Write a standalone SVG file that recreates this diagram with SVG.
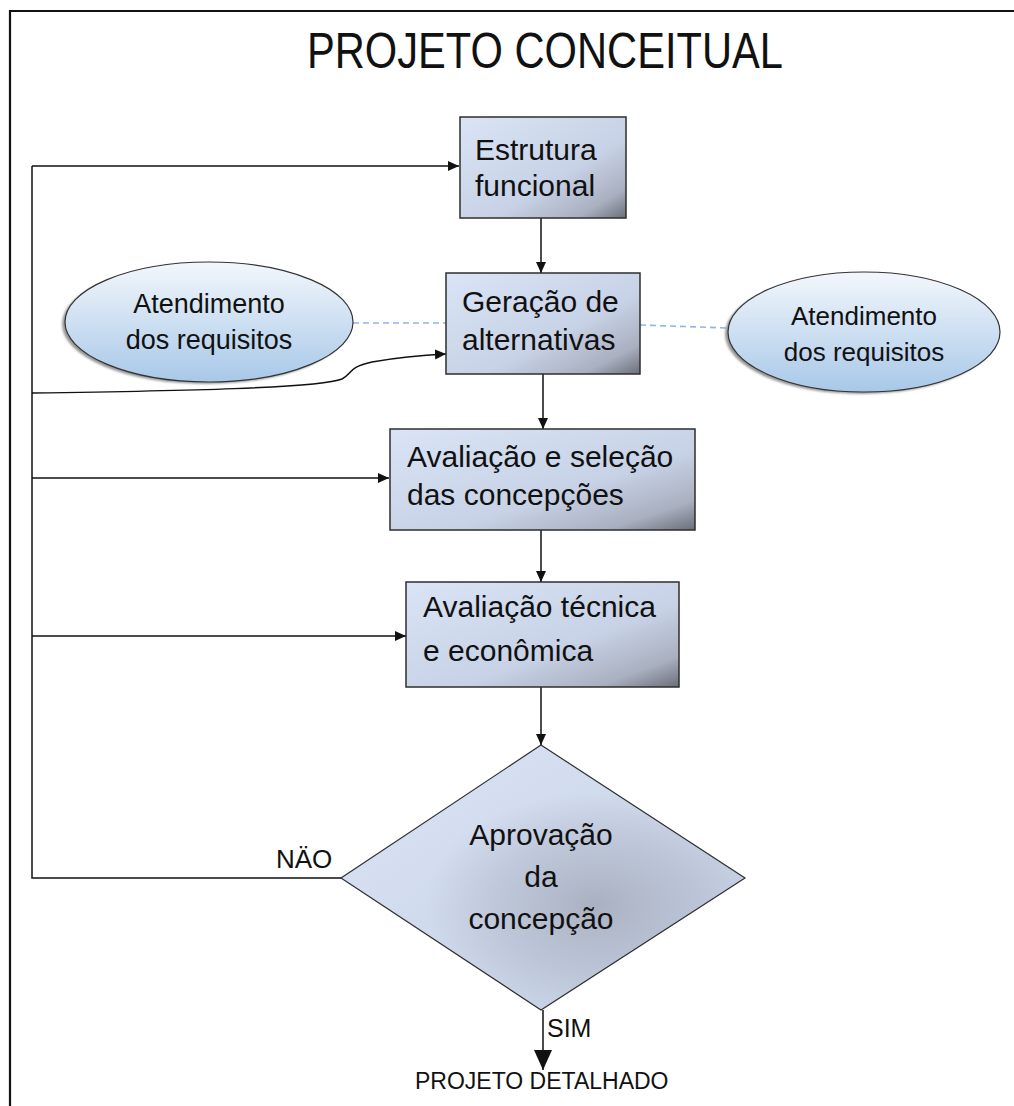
<svg xmlns="http://www.w3.org/2000/svg" width="1014" height="1106" viewBox="0 0 1014 1106">
  <style>
    .t { font-family: "Liberation Sans", Arial, sans-serif; fill: #111; }
    .box { stroke: #2e2e2e; stroke-width: 1.5; fill: url(#boxFill); }
    .ell { stroke: #333; stroke-width: 1.2; fill: url(#ellFill); }
    .shadow { fill: #7d7d7d; opacity: 0.8; }
    .wire { fill: none; stroke: #111; stroke-width: 1.5; }
    .dash { fill: none; stroke: #8db6e2; stroke-width: 1.6; stroke-dasharray: 6 4; }
  </style>
  <defs>
    <linearGradient id="boxFill" x1="0" y1="0" x2="1" y2="1">
      <stop offset="0" stop-color="#dae4f6"/>
      <stop offset="0.6" stop-color="#c8d2e6"/>
      <stop offset="0.85" stop-color="#a9b0c0"/>
      <stop offset="1" stop-color="#6b6f79"/>
    </linearGradient>
    <linearGradient id="ellFill" x1="0" y1="0" x2="0" y2="1">
      <stop offset="0" stop-color="#f3f7fc"/>
      <stop offset="1" stop-color="#a8c8e8"/>
    </linearGradient>
    <linearGradient id="diaFill" x1="0" y1="0" x2="1" y2="1">
      <stop offset="0" stop-color="#dbe5f6"/>
      <stop offset="1" stop-color="#c3cde2"/>
    </linearGradient>
    <radialGradient id="diaShade" cx="0.63" cy="0.6" r="0.42">
      <stop offset="0" stop-color="#9298a6" stop-opacity="0.6"/>
      <stop offset="0.6" stop-color="#9aa1b0" stop-opacity="0.3"/>
      <stop offset="1" stop-color="#9aa1b0" stop-opacity="0"/>
    </radialGradient>
    <filter id="soft" x="-10%" y="-10%" width="120%" height="120%">
      <feGaussianBlur stdDeviation="0.8"/>
    </filter>
    <marker id="arr" viewBox="0 0 10 10" refX="10" refY="5" markerWidth="11" markerHeight="10" markerUnits="userSpaceOnUse" orient="auto" preserveAspectRatio="none">
      <path d="M0,0 L10,5 L0,10 Z" fill="#111"/>
    </marker>
    <marker id="arrBig" viewBox="0 0 10 10" refX="10" refY="5" markerWidth="20" markerHeight="18" markerUnits="userSpaceOnUse" orient="auto" preserveAspectRatio="none">
      <path d="M0,0 L10,5 L0,10 Z" fill="#111"/>
    </marker>
  </defs>

  <rect width="1014" height="1106" fill="#ffffff"/>

  <!-- page frame -->
  <path d="M10,1106 V11 H1014" fill="none" stroke="#111" stroke-width="2.2"/>

  <text class="t" x="545" y="68" font-size="50" text-anchor="middle" textLength="476" lengthAdjust="spacingAndGlyphs">PROJETO CONCEITUAL</text>

  <!-- connectors -->
  <g id="connectors">
    <!-- feedback loop from the decision back to each step -->
    <path class="wire" d="M341,878 H32 V166"/>
    <path class="wire" d="M32,166 H459" marker-end="url(#arr)"/>
    <path class="wire" d="M32,478 H389" marker-end="url(#arr)"/>
    <path class="wire" d="M32,636 H406" marker-end="url(#arr)"/>
    <path class="wire" d="M32,393 C180,391 320,388 342,379 C352,374 348,367 372,362 C400,357 425,355 446,354" marker-end="url(#arr)"/>
    <!-- main flow -->
    <path class="wire" d="M541,218 V273" marker-end="url(#arr)"/>
    <path class="wire" d="M543,374 V429" marker-end="url(#arr)"/>
    <path class="wire" d="M541,530 V582" marker-end="url(#arr)"/>
    <path class="wire" d="M541,687 V745" marker-end="url(#arr)"/>
    <path class="wire" d="M543,1010 V1070" marker-end="url(#arrBig)"/>
    <!-- requirement links -->
    <path class="dash" d="M353,323 H446"/>
    <path class="dash" d="M640,325 L728,328"/>
  </g>

  <g id="req-left">
    <ellipse class="shadow" cx="206" cy="324" rx="144" ry="60" filter="url(#soft)"/>
    <ellipse class="ell" cx="209" cy="322" rx="144" ry="60"/>
    <text class="t" font-size="27" text-anchor="middle"><tspan x="209" y="313">Atendimento</tspan><tspan x="209" y="349">dos requisitos</tspan></text>
  </g>

  <g id="req-right">
    <ellipse class="shadow" cx="861" cy="334" rx="136" ry="60" filter="url(#soft)"/>
    <ellipse class="ell" cx="864" cy="332" rx="136" ry="60"/>
    <text class="t" font-size="26" text-anchor="middle"><tspan x="864" y="325">Atendimento</tspan><tspan x="864" y="361">dos requisitos</tspan></text>
  </g>

  <g id="estrutura">
    <rect class="box" x="460" y="117" width="166" height="101"/>
    <text class="t" font-size="30"><tspan x="475" y="160">Estrutura</tspan><tspan x="475" y="196">funcional</tspan></text>
  </g>

  <g id="geracao">
    <rect class="box" x="446" y="273" width="194" height="101"/>
    <text class="t" font-size="30"><tspan x="462" y="312">Geração de</tspan><tspan x="462" y="350">alternativas</tspan></text>
  </g>

  <g id="selecao">
    <rect class="box" x="390" y="429" width="305" height="101"/>
    <text class="t" font-size="30"><tspan x="407" y="467">Avaliação e seleção</tspan><tspan x="407" y="505">das concepções</tspan></text>
  </g>

  <g id="tecnica">
    <rect class="box" x="406" y="582" width="273" height="105"/>
    <text class="t" font-size="30"><tspan x="423" y="617">Avaliação técnica</tspan><tspan x="423" y="661">e econômica</tspan></text>
  </g>

  <g id="aprovacao">
    <path d="M541,745 L745,878 L541,1010 L341,878 Z" fill="url(#diaFill)"/>
    <path d="M541,745 L745,878 L541,1010 L341,878 Z" fill="url(#diaShade)" stroke="#2e2e2e" stroke-width="1.2"/>
    <text class="t" font-size="30" text-anchor="middle"><tspan x="541" y="845">Aprovação</tspan><tspan x="541" y="887">da</tspan><tspan x="541" y="929">concepção</tspan></text>
  </g>

  <text class="t" x="276" y="868" font-size="26">NÄO</text>
  <text class="t" x="547" y="1037" font-size="25">SIM</text>
  <text class="t" x="415" y="1089" font-size="23">PROJETO DETALHADO</text>
</svg>
